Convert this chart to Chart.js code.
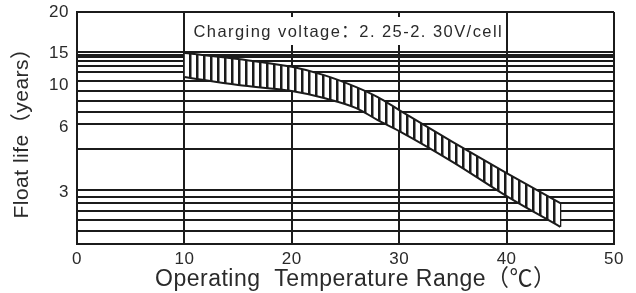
<!DOCTYPE html>
<html>
<head>
<meta charset="utf-8">
<script src="https://cdn.jsdelivr.net/npm/chart.js@4.4.1/dist/chart.umd.min.js"></script>
<style>
  html, body { margin: 0; padding: 0; background: #fff; }
</style>
</head>
<body>
<canvas id="lifeChart" width="636" height="293"></canvas>
<script>
// float life vs temperature
var temps = [10, 15, 20, 23, 26, 28, 30, 35, 40, 45];
var lifeUpper = [15.0, 13.9, 12.6, 11.35, 9.76, 8.64, 7.38, 5.11, 3.67, 2.66];
var lifeLower = [11.07, 10.0, 9.3, 8.54, 7.56, 6.53, 5.75, 4.13, 2.87, 2.05];
var yTickLabels = [20, 15, 10, 6, 3];
var yGridLines = [20, 15.1, 14.6, 14.2, 13.6, 12.8, 11.8, 10.5, 9.3, 8.2, 7.2, 6.2, 4.75, 3.05, 2.85, 2.65, 2.45, 2.2, 1.95, 1.7];
var noteText = "Charging voltage：2. 25-2. 30V/cell";

var ink = "#1b1b1b";
var textInk = "#2a2a2a";
var family = "'Liberation Sans', Arial, 'Noto Sans CJK SC', sans-serif";
Chart.defaults.font.family = family;

// the printed y axis is hand drawn: log-ish but uneven between the labels,
// so map value -> fraction from top piecewise (in log) between the labelled values
var yAxisMap = [[20, 0], [15, 0.177], [10, 0.315], [6, 0.496], [3, 0.776], [1.7, 1]];

function lifeToFrac(v) {
    var lv = Math.log(v);
    for (var i = 0; i < yAxisMap.length - 1; i++) {
        var a = yAxisMap[i], b = yAxisMap[i + 1];
        if (v >= b[0] || i === yAxisMap.length - 2) {
            var t = (Math.log(a[0]) - lv) / (Math.log(a[0]) - Math.log(b[0]));
            return a[1] + t * (b[1] - a[1]);
        }
    }
}
function fracToLife(f) {
    for (var i = 0; i < yAxisMap.length - 1; i++) {
        var a = yAxisMap[i], b = yAxisMap[i + 1];
        if (f <= b[1] || i === yAxisMap.length - 2) {
            var t = (f - a[1]) / (b[1] - a[1]);
            return Math.exp(Math.log(a[0]) + t * (Math.log(b[0]) - Math.log(a[0])));
        }
    }
}

class SheetScale extends Chart.LinearScale {
    getPixelForValue(v) { return this.getPixelForDecimal(1 - lifeToFrac(v)); }
    getValueForPixel(p) { return fracToLife(1 - this.getDecimalForPixel(p)); }
}
SheetScale.id = "sheet";
SheetScale.defaults = Chart.LinearScale.defaults;
Chart.register(SheetScale);

var yAllTicks = yGridLines.concat(yTickLabels.filter(function (v) { return yGridLines.indexOf(v) < 0; }))
    .sort(function (a, b) { return a - b; });

var ctx = document.getElementById("lifeChart").getContext("2d");

// vertical hatching for the band
var hatchCanvas = document.createElement("canvas");
hatchCanvas.width = 7;
hatchCanvas.height = 7;
var hg = hatchCanvas.getContext("2d");
hg.fillStyle = "#fff";
hg.fillRect(0, 0, 7, 7);
hg.fillStyle = ink;
hg.fillRect(0, 0, 2.5, 7);
var hatch = ctx.createPattern(hatchCanvas, "repeat");

var last = temps.length - 1;
var upperPts = temps.map(function (t, i) { return { x: t, y: lifeUpper[i] }; });
var lowerPts = temps.map(function (t, i) { return { x: t, y: lifeLower[i] }; });

var notePlugin = {
    id: "note",
    beforeDraw: function (chart) {
        // the printed labels are slightly letter spaced
        chart.ctx.letterSpacing = "0.5px";
    },
    afterDraw: function (chart) {
        var c = chart.ctx, xs = chart.scales.x, top = chart.chartArea.top;
        var left = xs.getPixelForValue(10) + 3, right = xs.getPixelForValue(40) - 4;
        c.save();
        c.fillStyle = "#fff";
        c.fillRect(left, top + 5, right - left, 28);
        c.fillStyle = textInk;
        c.font = "16.5px " + family;
        c.letterSpacing = "1.45px";
        c.textBaseline = "middle";
        c.fillText(noteText, left + 6, top + 20);
        c.restore();
        c.letterSpacing = "0px";
    }
};

var lifeChart = new Chart(ctx, {
    type: "line",
    data: {
        datasets: [
            {
                label: "lower",
                data: lowerPts,
                borderColor: ink,
                borderWidth: 2,
                pointRadius: 0,
                fill: false,
                cubicInterpolationMode: "monotone"
            },
            {
                label: "upper",
                data: upperPts,
                borderColor: ink,
                borderWidth: 2,
                pointRadius: 0,
                fill: "-1",
                backgroundColor: hatch,
                cubicInterpolationMode: "monotone"
            },
            {
                label: "end",
                data: [{ x: temps[last], y: lifeLower[last] }, { x: temps[last], y: lifeUpper[last] }],
                borderColor: ink,
                borderWidth: 2,
                pointRadius: 0,
                fill: false
            }
        ]
    },
    plugins: [notePlugin],
    options: {
        responsive: false,
        animation: false,
        layout: { padding: { top: 12, right: 22, bottom: 0, left: 0 } },
        plugins: {
            legend: { display: false },
            tooltip: { enabled: false }
        },
        scales: {
            x: {
                type: "linear",
                min: 0,
                max: 50,
                ticks: { stepSize: 10, padding: 5, color: textInk, font: { size: 17 } },
                grid: { color: ink, lineWidth: 2, drawTicks: false },
                border: { color: ink, width: 2 },
                title: {
                    display: true,
                    // leading spaces balance the blank side of the full-width bracket
                    text: "   Operating  Temperature Range（℃）",
                    color: textInk,
                    font: { size: 23 },
                    padding: { top: 0, bottom: 0 }
                },
                afterFit: function (s) {
                    s.height = 49;
                    s.paddingLeft = 0;
                    s.paddingRight = 0;
                }
            },
            y: {
                type: "sheet",
                min: 1.7,
                max: 20,
                afterBuildTicks: function (s) {
                    s.ticks = yAllTicks.map(function (v) { return { value: v }; });
                },
                ticks: {
                    autoSkip: false,
                    padding: 8,
                    color: textInk,
                    font: { size: 17 },
                    callback: function (v) { return yTickLabels.indexOf(v) >= 0 ? String(v) : ""; }
                },
                grid: {
                    color: function (c) {
                        return c.tick && yGridLines.indexOf(c.tick.value) >= 0 ? ink : "rgba(0,0,0,0)";
                    },
                    lineWidth: 2,
                    drawTicks: false
                },
                border: { color: ink, width: 2 },
                title: {
                    display: true,
                    text: "Float life（years）",
                    color: textInk,
                    font: { size: 21 },
                    padding: { top: 10, bottom: 0 }
                },
                afterFit: function (s) {
                    s.width = 77;
                    s.paddingTop = 0;
                    s.paddingBottom = 0;
                }
            }
        }
    }
});
</script>
</body>
</html>
